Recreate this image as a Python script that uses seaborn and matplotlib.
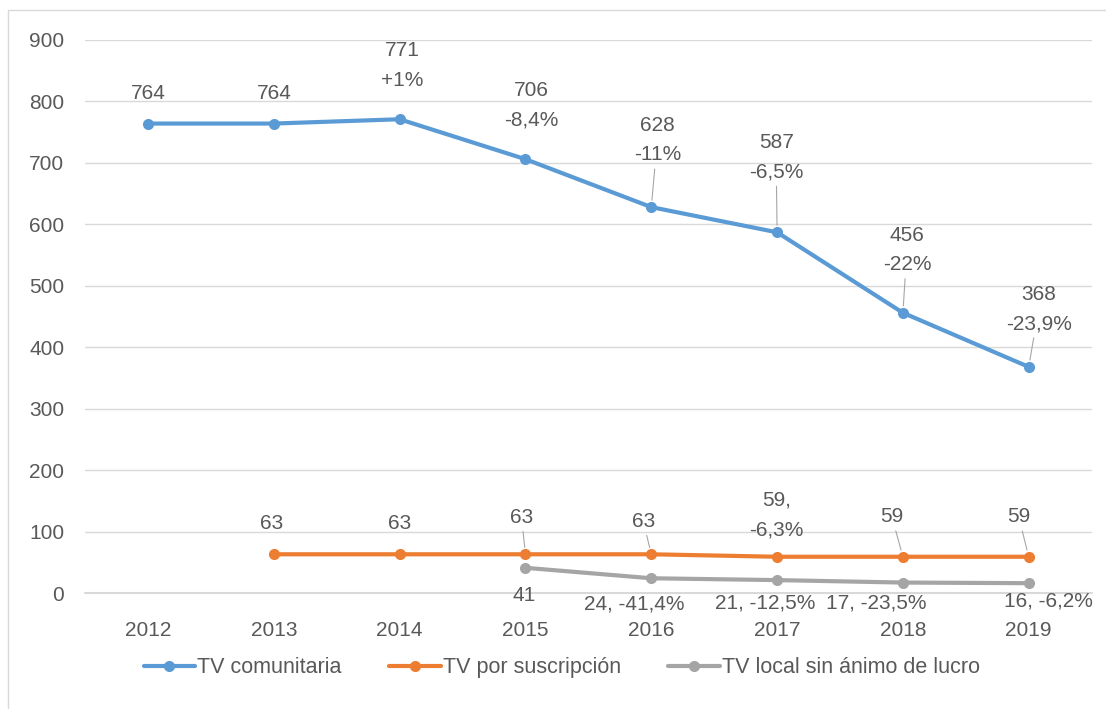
import matplotlib
matplotlib.use("Agg")
import matplotlib.pyplot as plt
import seaborn as sns
import pandas as pd
import numpy as np

# Data
years = [2012, 2013, 2014, 2015, 2016, 2017, 2018, 2019]
series_names = ["TV comunitaria", "TV por suscripción", "TV local sin ánimo de lucro"]
comunitaria = [764, 764, 771, 706, 628, 587, 456, 368]
suscripcion = [np.nan, 63, 63, 63, 63, 59, 59, 59]
sin_lucro = [np.nan, np.nan, np.nan, 41, 24, 21, 17, 16]

comunitaria_labels = ["764", "764", "771\n+1%", "706\n-8,4%", "628\n-11%",
                      "587\n-6,5%", "456\n-22%", "368\n-23,9%"]
suscripcion_labels = [None, "63", "63", "63", "63", "59,\n-6,3%", "59", "59"]
sin_lucro_labels = [None, None, None, "41", "24, -41,4%", "21, -12,5%",
                    "17, -23,5%", "16, -6,2%"]

colors = ["#5B9BD5", "#ED7D31", "#A5A5A5"]
text_color = "#595959"

# label placement (pixel offsets from the point) and whether a leader line is drawn
comunitaria_pos = [(0, 30, False), (0, 30, False), (3, 54, False), (6, 54, False),
                   (6, 67, True), (-1, 75, True), (4, 63, True), (10, 58, True)]
suscripcion_pos = [None, (-2, 31, False), (0, 31, False), (-4, 37, True),
                   (-8, 33, True), (-1, 42, False), (-11, 40, True), (-10, 40, True)]
sin_lucro_pos = [None, None, None, (-1, -28, False), (-17, -26, False),
                 (-12, -23, False), (-27, -20, False), (20, -18, False)]

df = pd.DataFrame({
    "year": years * 3,
    "value": comunitaria + suscripcion + sin_lucro,
    "serie": [series_names[0]] * 8 + [series_names[1]] * 8 + [series_names[2]] * 8,
}).dropna()

sns.set_style("white")
plt.rcParams["font.family"] = ["Liberation Sans", "DejaVu Sans"]

fig = plt.figure(figsize=(11.06, 7.09), dpi=100)
ax = fig.add_axes([0.077, 0.1636, 0.910, 0.78])

sns.lineplot(
    data=df, x="year", y="value", hue="serie",
    hue_order=series_names, palette=colors,
    marker="o", markersize=8, markeredgewidth=0,
    linewidth=3, ax=ax, zorder=3
)

# Data labels
for vals, labels, pos in [(comunitaria, comunitaria_labels, comunitaria_pos),
                          (suscripcion, suscripcion_labels, suscripcion_pos),
                          (sin_lucro, sin_lucro_labels, sin_lucro_pos)]:
    for yr, v, lab, p in zip(years, vals, labels, pos):
        if lab is None:
            continue
        dx, dy, leader = p
        kw = {}
        if leader:
            kw["arrowprops"] = dict(arrowstyle="-", color="#A6A6A6", lw=0.8,
                                    shrinkA=1, shrinkB=5)
        ax.annotate(lab, xy=(yr, v), xytext=(dx, dy), textcoords="offset pixels",
                    ha="center", va="center", fontsize=15, color=text_color,
                    linespacing=1.7, **kw)

# Axes styling
ax.set_xlim(2011.5, 2019.5)
ax.set_ylim(0, 900)
ax.set_yticks(range(0, 1000, 100))
ax.set_xticks(years)
ax.grid(axis="y", color="#D9D9D9", linewidth=1)
ax.axhline(0, color="#D9D9D9", linewidth=1.5, zorder=1, clip_on=False)
ax.set_axisbelow(True)
for s in ax.spines.values():
    s.set_visible(False)
ax.tick_params(axis="both", length=0, labelsize=15, labelcolor=text_color)
ax.tick_params(axis="y", pad=15)
ax.tick_params(axis="x", pad=20)
ax.set_xlabel("")
ax.set_ylabel("")

# Legend below the chart
handles, labels = ax.get_legend_handles_labels()
ax.legend_.remove()
fig.legend(handles, labels, loc="center", bbox_to_anchor=(0.508, 0.058),
           ncol=3, frameon=False, fontsize=15.5, labelcolor=text_color,
           handlelength=2.4, handletextpad=0.1, columnspacing=2.2)

# Chart frame
fig.patches.append(plt.Rectangle((0.007, -0.01), 1.0, 0.996, transform=fig.transFigure,
                                 fill=False, edgecolor="#D9D9D9", linewidth=1))

fig.savefig("out.png", dpi=100)
